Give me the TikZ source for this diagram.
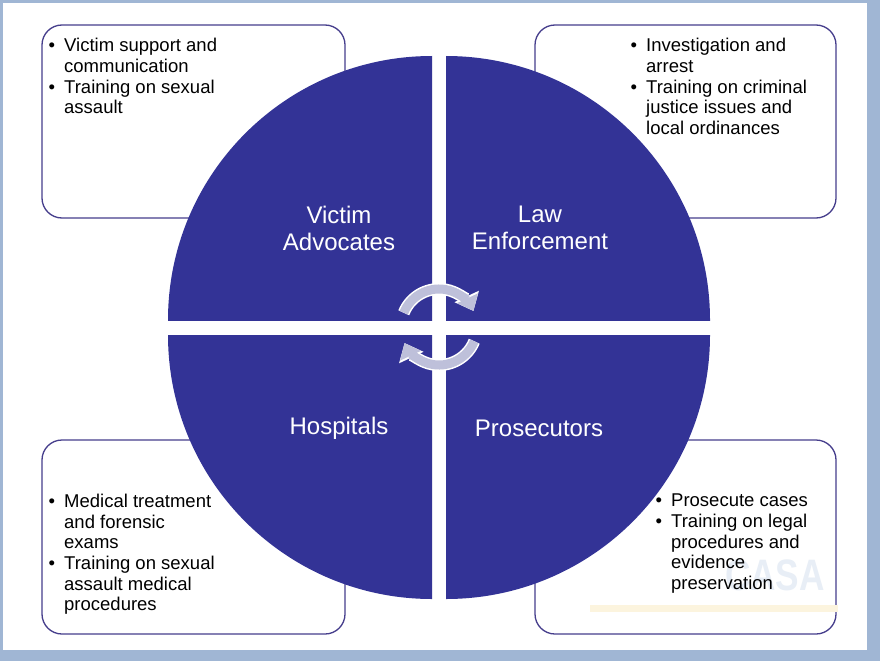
\documentclass[tikz,border=0pt]{standalone}
\usepackage{fontspec}
\setmainfont{Liberation Sans}
\usetikzlibrary{positioning,arrows.meta}
\definecolor{slideblue}{RGB}{51,51,150}
\definecolor{boxline}{RGB}{70,62,140}
\definecolor{framecol}{RGB}{160,182,212}
\definecolor{arrowcol}{RGB}{190,192,218}
\definecolor{markcol}{RGB}{232,238,246}
\definecolor{markbar}{RGB}{252,244,222}
\tikzset{
  infobox/.style={draw=boxline, line width=1.3pt, rounded corners=20pt, fill=white},
  quarter/.style={fill=slideblue},
  role/.style={white, font=\fontsize{24}{27}\selectfont, align=center},
  item/.style={anchor=north west, inner sep=0pt, align=left, font=\fontsize{18.5}{20.5}\selectfont},
  turn/.style={line width=9pt, arrowcol, -{Triangle[length=14pt,width=22pt]}},
  turnedge/.style={line width=12pt, white, -{Triangle[length=16pt,width=26pt]}}
}
\newcommand{\bul}{\llap{\textbullet\hspace{9pt}}}
\begin{document}
\begin{tikzpicture}[x=1pt, y=-1pt]
  \useasboundingbox (0,0) rectangle (880,661);
  \fill[framecol] (0,0) rectangle (880,661);
  \fill[white] (3,3) rectangle (867,650);
  % boxes at the corners
  \draw[infobox] (42,25) rectangle (345,218);
  \draw[infobox] (535,25) rectangle (836,218);
  \draw[infobox] (42,440) rectangle (345,634);
  \draw[infobox] (535,440) rectangle (836,634);
  % faint logo
  \fill[markbar] (590,605) rectangle (838,612);
  \node[markcol, font=\fontsize{44}{44}\selectfont\bfseries, xscale=0.8] (logo) at (775,575) {CASA};
  % four quarters
  \begin{scope}
    \clip (432,320) rectangle (100,0);
    \fill[quarter] (432,320) circle[radius=264pt];
  \end{scope}
  \begin{scope}
    \clip (446,320) rectangle (800,0);
    \fill[quarter] (446,320) circle[radius=264pt];
  \end{scope}
  \begin{scope}
    \clip (432,335) rectangle (100,650);
    \fill[quarter] (432,335) circle[radius=264pt];
  \end{scope}
  \begin{scope}
    \clip (446,335) rectangle (800,650);
    \fill[quarter] (446,335) circle[radius=264pt];
  \end{scope}
  \node[role] (advocates) at (339,228) {Victim\\Advocates};
  \node[role] (police) at (540,228) {Law\\Enforcement};
  \node[role] (hospitals) at (339,428) {Hospitals};
  \node[role] (prosecutors) at (539,428) {Prosecutors};
  % cycle arrows
  \coordinate (hub) at (439,327);
  \draw[turnedge] ([shift={(158:38pt)}]hub) arc[start angle=158, end angle=25, radius=38pt];
  \draw[turn] ([shift={(158:38pt)}]hub) arc[start angle=158, end angle=25, radius=38pt];
  \draw[turnedge] ([shift={(-22:38pt)}]hub) arc[start angle=-22, end angle=-155, radius=38pt];
  \draw[turn] ([shift={(-22:38pt)}]hub) arc[start angle=-22, end angle=-155, radius=38pt];
  % box texts
  \node[item] (va1) at (64,38) {\bul Victim support and\\communication};
  \node[item] (va2) at ([yshift=-7pt]va1.south west) {\bul Training on sexual\\assault};
  \node[item] (le1) at (646,38) {\bul Investigation and\\arrest};
  \node[item] (le2) at ([yshift=-7pt]le1.south west) {\bul Training on criminal\\justice issues and\\local ordinances};
  \node[item] (ho1) at (64,494) {\bul Medical treatment\\and forensic\\exams};
  \node[item] (ho2) at ([yshift=-7pt]ho1.south west) {\bul Training on sexual\\assault medical\\procedures};
  \node[item] (pr1) at (671,494) {\bul Prosecute cases};
  \node[item] (pr2) at ([yshift=-7pt]pr1.south west) {\bul Training on legal\\procedures and\\evidence\\preservation};
\end{tikzpicture}
\end{document}
